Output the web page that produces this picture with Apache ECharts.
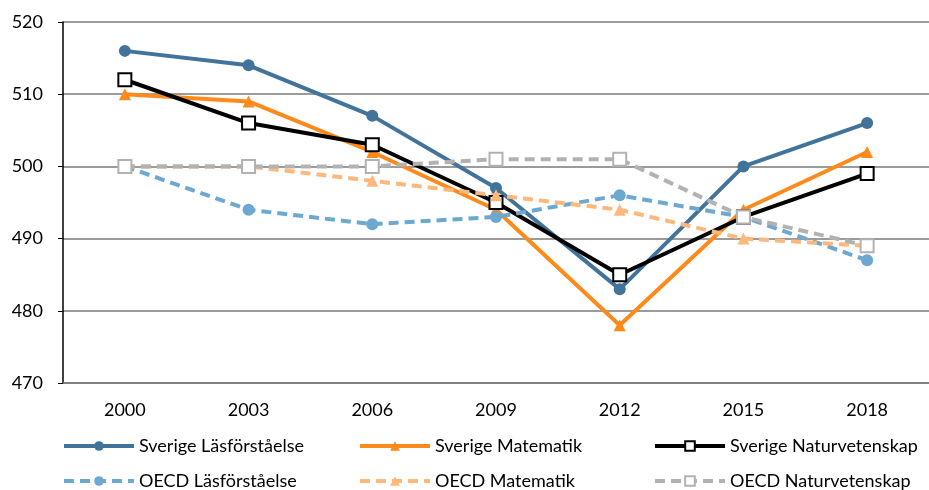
<!DOCTYPE html>
<html>
<head>
<meta charset="utf-8">
<script src="https://cdn.jsdelivr.net/npm/echarts@6/dist/echarts.min.js"></script>
<style>
  html, body { margin: 0; padding: 0; background: #fff; }
  #chart { width: 929px; height: 490px; }
</style>
</head>
<body>
<div id="chart"></div>
<script>
// årtal för PISA-mätningarna
const years = ['2000', '2003', '2006', '2009', '2012', '2015', '2018'];

const sverigeLas = [516, 514, 507, 497, 483, 500, 506];
const sverigeMat = [510, 509, 502, 494, 478, 494, 502];
const sverigeNat = [512, 506, 503, 495, 485, 493, 499];
const oecdLas = [500, 494, 492, 493, 496, 493, 487];
const oecdMat = [500, 500, 498, 496, 494, 490, 489];
const oecdNat = [500, 500, 500, 501, 501, 493, 489];

const font = 'Lato, "Open Sans", sans-serif';

function serie(name, data, color, symbol, dashed, size) {
  return {
    name: name,
    type: 'line',
    data: data,
    symbol: symbol,
    symbolSize: size,
    lineStyle: { color: color, width: 4, type: dashed ? [10, 6] : 'solid' },
    itemStyle: symbol === 'rect'
      ? { color: '#fff', borderColor: color, borderWidth: 2 }
      : { color: color },
    emphasis: { disabled: true }
  };
}

// en legend per serie så att kolumnerna hamnar rätt
function legend(name, left, top) {
  return {
    data: [name],
    left: left,
    top: top,
    padding: 0,
    itemWidth: 70,
    itemHeight: 12,
    lineStyle: { width: 4 },
    textStyle: { fontFamily: font, fontSize: 18, color: '#000' }
  };
}

const chart = echarts.init(document.getElementById('chart'));
chart.setOption({
  animation: false,
  grid: { left: 63, top: 22, right: -7, bottom: 107 },
  legend: [
    legend('Sverige Läsförståelse', 62, 437),
    legend('Sverige Matematik', 358, 437),
    legend('Sverige Naturvetenskap', 653, 437),
    legend('OECD Läsförståelse', 62, 472),
    legend('OECD Matematik', 358, 472),
    legend('OECD Naturvetenskap', 653, 472)
  ],
  xAxis: {
    type: 'category',
    data: years,
    boundaryGap: true,
    axisLine: { lineStyle: { color: '#7a7a7a', width: 1.5 } },
    axisTick: { show: false },
    axisLabel: { fontFamily: font, fontSize: 18, color: '#000', margin: 18 }
  },
  yAxis: {
    type: 'value',
    min: 470,
    max: 520,
    interval: 10,
    axisLine: { show: true, lineStyle: { color: '#000', width: 1.5 } },
    axisTick: { show: true, length: 5, lineStyle: { color: '#000' } },
    axisLabel: { fontFamily: font, fontSize: 18, color: '#000', margin: 20 },
    splitLine: { lineStyle: { color: '#7a7a7a', width: 1.5 } }
  },
  series: [
    serie('Sverige Läsförståelse', sverigeLas, '#41739b', 'circle', false, 12),
    serie('Sverige Matematik', sverigeMat, '#ff8a1c', 'triangle', false, 12),
    serie('Sverige Naturvetenskap', sverigeNat, '#000000', 'rect', false, 13),
    serie('OECD Läsförståelse', oecdLas, '#6ca8d0', 'circle', true, 12),
    serie('OECD Matematik', oecdMat, '#ffb87c', 'triangle', true, 12),
    serie('OECD Naturvetenskap', oecdNat, '#b2b2b2', 'rect', true, 13)
  ]
});
</script>
</body>
</html>
